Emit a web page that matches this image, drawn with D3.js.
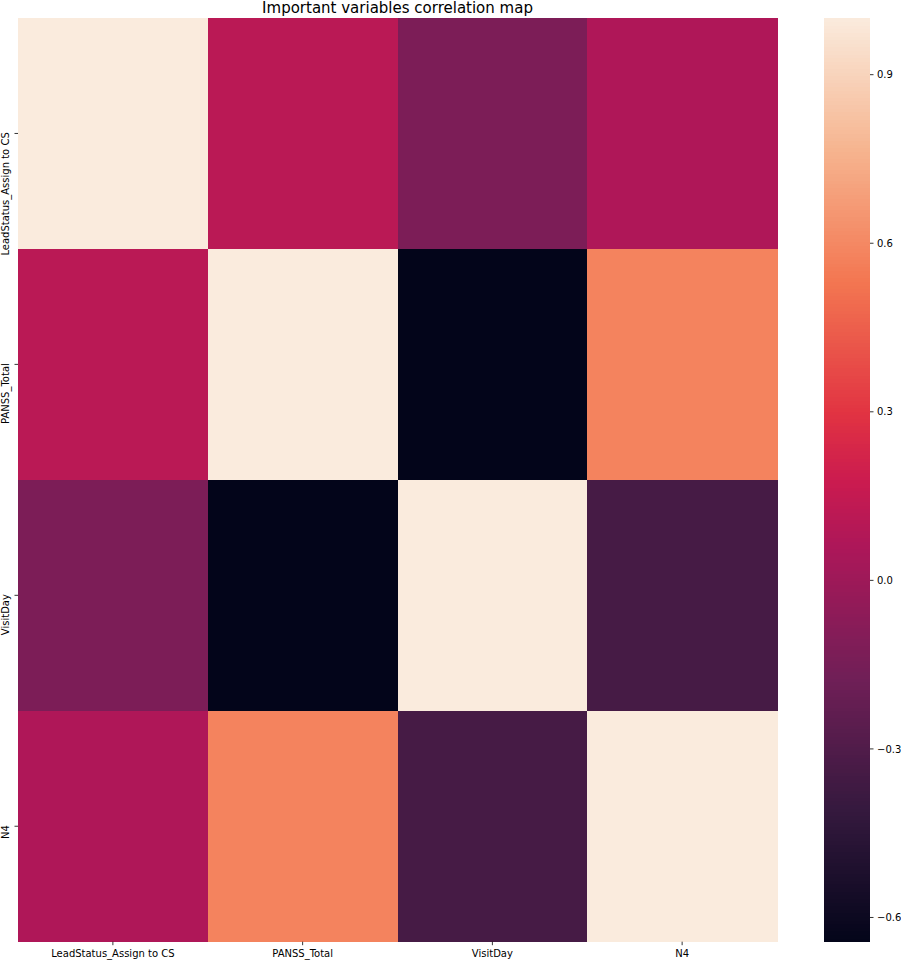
<!DOCTYPE html>
<html>
<head>
<meta charset="utf-8">
<script src="https://cdn.jsdelivr.net/npm/d3@7"></script>
<style>
  html, body { margin: 0; padding: 0; background: #fff; }
  svg { display: block; font-family: "DejaVu Sans", sans-serif; }
</style>
</head>
<body>
<svg id="chart" width="901" height="960"></svg>
<script>
// ---- data ----
const variables = ["LeadStatus_Assign to CS", "PANSS_Total", "VisitDay", "N4"];
const leadStatusRow = [1.00, 0.11, -0.13, 0.07];
const panssTotalRow = [0.11, 1.00, -0.644, 0.58];
const visitDayRow   = [-0.13, -0.644, 1.00, -0.34];
const n4Row         = [0.07, 0.58, -0.34, 1.00];
const matrix = [leadStatusRow, panssTotalRow, visitDayRow, n4Row];
const colorbarTicks = [0.9, 0.6, 0.3, 0.0, -0.3, -0.6];
const title = "Important variables correlation map";

// seaborn "rocket" colormap anchor colours
const rocketColors = ["#03051a", "#35193e", "#701f57", "#ad1759", "#cb1b4f", "#e13342", "#f37651", "#f6b48f", "#faebdd"];
const rocketPositions = [0, 1/7, 2/7, 3/7, 0.5, 4/7, 5/7, 6/7, 1];

// ---- layout ----
const plot = { left: 18, right: 777, top: 18, bottom: 941.7 };
const cbar = { left: 824, right: 870 };
const tickLen = 3.5;

const svg = d3.select("#chart");

const allValues = matrix.flat();
const vmin = d3.min(allValues), vmax = d3.max(allValues);

const rocket = d3.scaleLinear().domain(rocketPositions).range(rocketColors).interpolate(d3.interpolateRgb).clamp(true);
const norm = d3.scaleLinear().domain([vmin, vmax]).range([0, 1]);
const color = v => rocket(norm(v));

const x = d3.scaleBand().domain(variables).range([plot.left, plot.right]).padding(0);
const y = d3.scaleBand().domain(variables).range([plot.top, plot.bottom]).padding(0);

const cells = [];
matrix.forEach((row, i) => row.forEach((v, j) => cells.push({ r: variables[i], c: variables[j], v })));

svg.append("g").selectAll("rect").data(cells).join("rect")
  .attr("x", d => x(d.c))
  .attr("y", d => y(d.r))
  .attr("width", x.bandwidth() + 0.5)
  .attr("height", y.bandwidth() + 0.5)
  .attr("fill", d => color(d.v))
  .attr("shape-rendering", "crispEdges");

// x axis
const xAxis = svg.append("g")
  .attr("transform", `translate(0,${plot.bottom})`)
  .call(d3.axisBottom(x).tickSize(tickLen).tickPadding(0));
xAxis.select(".domain").remove();
xAxis.selectAll(".tick line").attr("stroke", "#000").attr("stroke-width", 0.8);
xAxis.selectAll(".tick text")
  .attr("y", 15.3).attr("dy", 0)
  .attr("fill", "#000").attr("font-size", 10)
  .attr("font-family", "DejaVu Sans, sans-serif");

// y axis
const yAxis = svg.append("g")
  .attr("transform", `translate(${plot.left},0)`)
  .call(d3.axisLeft(y).tickSize(tickLen));
yAxis.select(".domain").remove();
yAxis.selectAll(".tick line").attr("stroke", "#000").attr("stroke-width", 0.8);
yAxis.selectAll(".tick text")
  .attr("x", null).attr("dy", null)
  .attr("transform", "translate(-9.4,-1.2) rotate(-90)")
  .attr("text-anchor", "end")
  .attr("fill", "#000").attr("font-size", 10)
  .attr("font-family", "DejaVu Sans, sans-serif");

// title
svg.append("text")
  .attr("x", (plot.left + plot.right) / 2)
  .attr("y", 12.5)
  .attr("text-anchor", "middle")
  .attr("font-size", 15)
  .attr("fill", "#000")
  .text(title);

// colorbar
const cy = d3.scaleLinear().domain([vmin, vmax]).range([plot.bottom, plot.top]);
const nBins = 256;
const bins = d3.range(nBins).map(i => ({
  lo: vmin + (vmax - vmin) * i / nBins,
  hi: vmin + (vmax - vmin) * (i + 1) / nBins,
  t: (i + 0.5) / nBins
}));
svg.append("g").attr("shape-rendering", "crispEdges")
  .selectAll("rect").data(bins).join("rect")
  .attr("x", cbar.left)
  .attr("width", cbar.right - cbar.left)
  .attr("y", d => Math.floor(cy(d.hi)))
  .attr("height", d => Math.ceil(cy(d.lo)) - Math.floor(cy(d.hi)))
  .attr("fill", d => rocket(d.t));

const cAxis = svg.append("g")
  .attr("transform", `translate(${cbar.right},0)`)
  .call(d3.axisRight(cy).tickValues(colorbarTicks).tickFormat(d3.format(".1f")).tickSize(tickLen).tickPadding(3.5));
cAxis.select(".domain").remove();
cAxis.selectAll(".tick line").attr("stroke", "#000").attr("stroke-width", 0.8);
cAxis.selectAll(".tick text")
  .attr("dy", 3.6)
  .attr("fill", "#000").attr("font-size", 10)
  .attr("font-family", "DejaVu Sans, sans-serif");
</script>
</body>
</html>
